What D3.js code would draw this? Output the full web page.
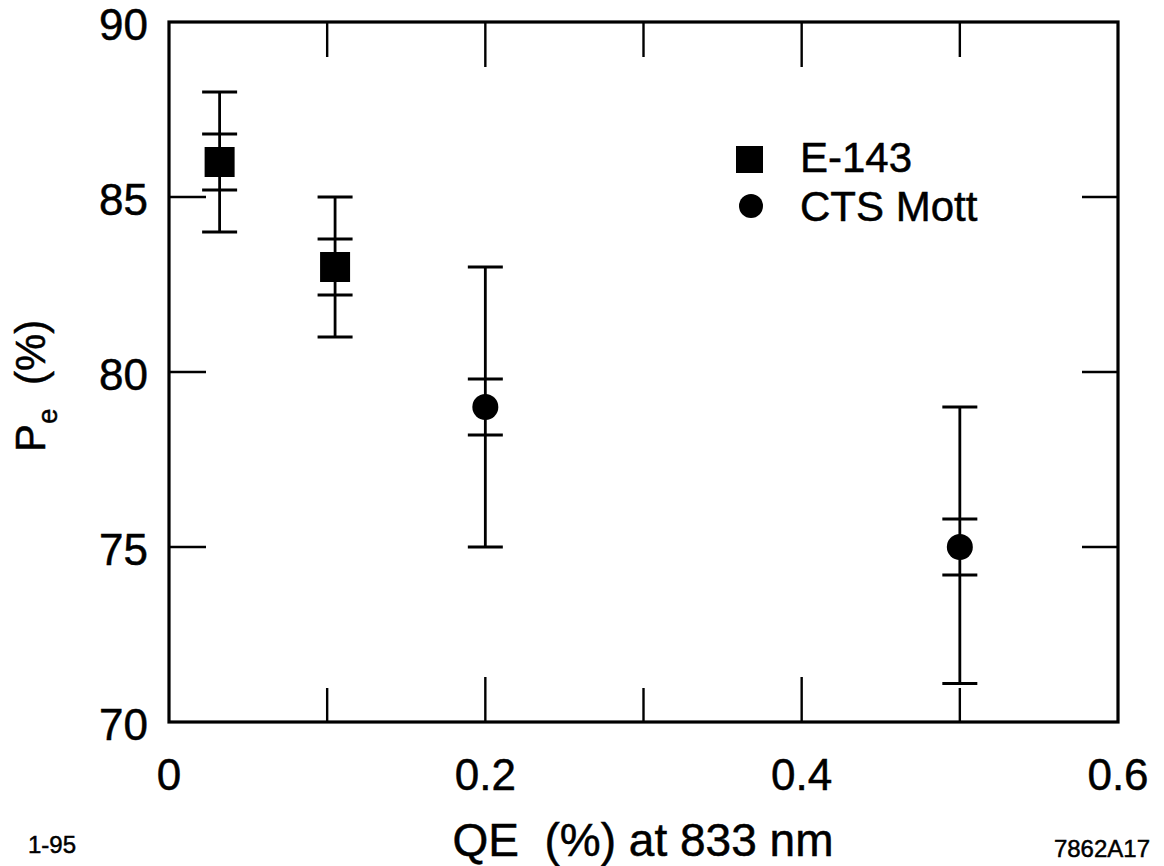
<!DOCTYPE html>
<html>
<head>
<meta charset="utf-8">
<script src="https://cdn.jsdelivr.net/npm/d3@7"></script>
<style>
  html, body { margin: 0; padding: 0; background: #fff; }
  svg { display: block; font-family: "Liberation Sans", Arial, Helvetica, sans-serif; }
  svg text { stroke: #000; stroke-width: 0.5px; }
</style>
</head>
<body>
<svg id="chart" width="1164" height="866"></svg>
<script>
// E-143 polarimeter measurements
const e143QE = [0.032, 0.105];
const e143Pe = [86, 83];
const e143ErrTotal = [2, 2];
const e143ErrStat = [0.8, 0.8];

// CTS Mott polarimeter measurements
const mottQE = [0.2, 0.5];
const mottPe = [79, 75];
const mottErrLow = [4, 3.9];
const mottErrHigh = [4, 4];
const mottErrStat = [0.8, 0.8];

// Axis ticks
const xTicksMajor = [0, 0.2, 0.4, 0.6];
const xTicksMinor = [0.1, 0.3, 0.5];
const xTickLabels = ["0", "0.2", "0.4", "0.6"];
const yTicks = [70, 75, 80, 85, 90];
const yTickLabels = ["70", "75", "80", "85", "90"];

const svg = d3.select("#chart");
const m = { left: 169, right: 1118, top: 22, bottom: 722 };

const x = d3.scaleLinear().domain([0, 0.6]).range([m.left, m.right]);
const y = d3.scaleLinear().domain([70, 90]).range([m.bottom, m.top]);

const ink = "#000";

// Inward ticks on all four sides
const tickG = svg.append("g").attr("stroke", ink).attr("stroke-width", 2.4);
const innerMajor = xTicksMajor.filter(v => v > 0 && v < 0.6);
innerMajor.forEach(v => {
  tickG.append("line").attr("x1", x(v)).attr("x2", x(v)).attr("y1", y(70)).attr("y2", y(70) - 45);
  tickG.append("line").attr("x1", x(v)).attr("x2", x(v)).attr("y1", y(90)).attr("y2", y(90) + 45);
});
xTicksMinor.forEach(v => {
  tickG.append("line").attr("x1", x(v)).attr("x2", x(v)).attr("y1", y(70)).attr("y2", y(70) - 34);
  tickG.append("line").attr("x1", x(v)).attr("x2", x(v)).attr("y1", y(90)).attr("y2", y(90) + 35);
});
yTicks.filter(v => v > 70 && v < 90).forEach(v => {
  tickG.append("line").attr("x1", x(0)).attr("x2", x(0) + 37).attr("y1", y(v)).attr("y2", y(v));
  tickG.append("line").attr("x1", x(0.6)).attr("x2", x(0.6) - 36).attr("y1", y(v)).attr("y2", y(v));
});

// Frame
svg.append("rect")
  .attr("x", x(0)).attr("y", y(90))
  .attr("width", x(0.6) - x(0)).attr("height", y(70) - y(90))
  .attr("fill", "none").attr("stroke", ink).attr("stroke-width", 3.2);

// Tick labels
svg.append("g").selectAll("text").data(xTicksMajor).join("text")
  .attr("x", d => x(d)).attr("y", 790)
  .attr("text-anchor", "middle").attr("font-size", 44).attr("fill", ink)
  .text((d, i) => xTickLabels[i]);

svg.append("g").selectAll("text").data(yTicks).join("text")
  .attr("x", 148).attr("y", d => y(d)).attr("dy", "0.42em")
  .attr("text-anchor", "end").attr("font-size", 44).attr("fill", ink)
  .text((d, i) => yTickLabels[i]);

// Axis titles
svg.append("text")
  .attr("x", 643).attr("y", 856)
  .attr("text-anchor", "middle").attr("font-size", 46).attr("fill", ink)
  .text("QE\u00a0\u00a0(%) at 833 nm");

const yTitle = svg.append("text")
  .attr("transform", "translate(45,452) rotate(-90)")
  .attr("font-size", 42).attr("fill", ink);
yTitle.append("tspan").text("P");
yTitle.append("tspan").attr("font-size", 28).attr("dy", 12).text("e");
yTitle.append("tspan").attr("dy", -12).text("\u00a0\u00a0(%)");

// Corner annotations
svg.append("text").attr("x", 28).attr("y", 853).attr("font-size", 24).attr("fill", ink).text("1-95");
svg.append("text").attr("x", 1150).attr("y", 857).attr("text-anchor", "end").attr("font-size", 24).attr("fill", ink).text("7862A17");

// Error bars: total (outer caps) and statistical (inner caps)
const capW = 35;
function errorBar(g, cx, lo, hi, sLo, sHi) {
  g.append("line").attr("x1", cx).attr("x2", cx).attr("y1", y(hi)).attr("y2", y(lo));
  [lo, hi, sLo, sHi].forEach(v => {
    g.append("line").attr("x1", cx - capW / 2).attr("x2", cx + capW / 2).attr("y1", y(v)).attr("y2", y(v));
  });
}
const errG = svg.append("g").attr("stroke", ink).attr("stroke-width", 2.8);
e143QE.forEach((q, i) => {
  errorBar(errG, x(q), e143Pe[i] - e143ErrTotal[i], e143Pe[i] + e143ErrTotal[i],
           e143Pe[i] - e143ErrStat[i], e143Pe[i] + e143ErrStat[i]);
});
mottQE.forEach((q, i) => {
  errorBar(errG, x(q), mottPe[i] - mottErrLow[i], mottPe[i] + mottErrHigh[i],
           mottPe[i] - mottErrStat[i], mottPe[i] + mottErrStat[i]);
});

// Markers
const sq = 30;
svg.append("g").selectAll("rect").data(e143QE).join("rect")
  .attr("x", d => x(d) - sq / 2).attr("y", (d, i) => y(e143Pe[i]) - sq / 2)
  .attr("width", sq).attr("height", sq).attr("fill", ink);

svg.append("g").selectAll("circle").data(mottQE).join("circle")
  .attr("cx", d => x(d)).attr("cy", (d, i) => y(mottPe[i]))
  .attr("r", 13).attr("fill", ink);

// Legend
const leg = svg.append("g");
leg.append("rect").attr("x", 736).attr("y", 146).attr("width", 27).attr("height", 27).attr("fill", ink);
leg.append("text").attr("x", 800).attr("y", 172).attr("font-size", 42).attr("fill", ink).text("E-143");
leg.append("circle").attr("cx", 751).attr("cy", 206).attr("r", 12).attr("fill", ink);
leg.append("text").attr("x", 800).attr("y", 221).attr("font-size", 42).attr("fill", ink).text("CTS Mott");
</script>
</body>
</html>
